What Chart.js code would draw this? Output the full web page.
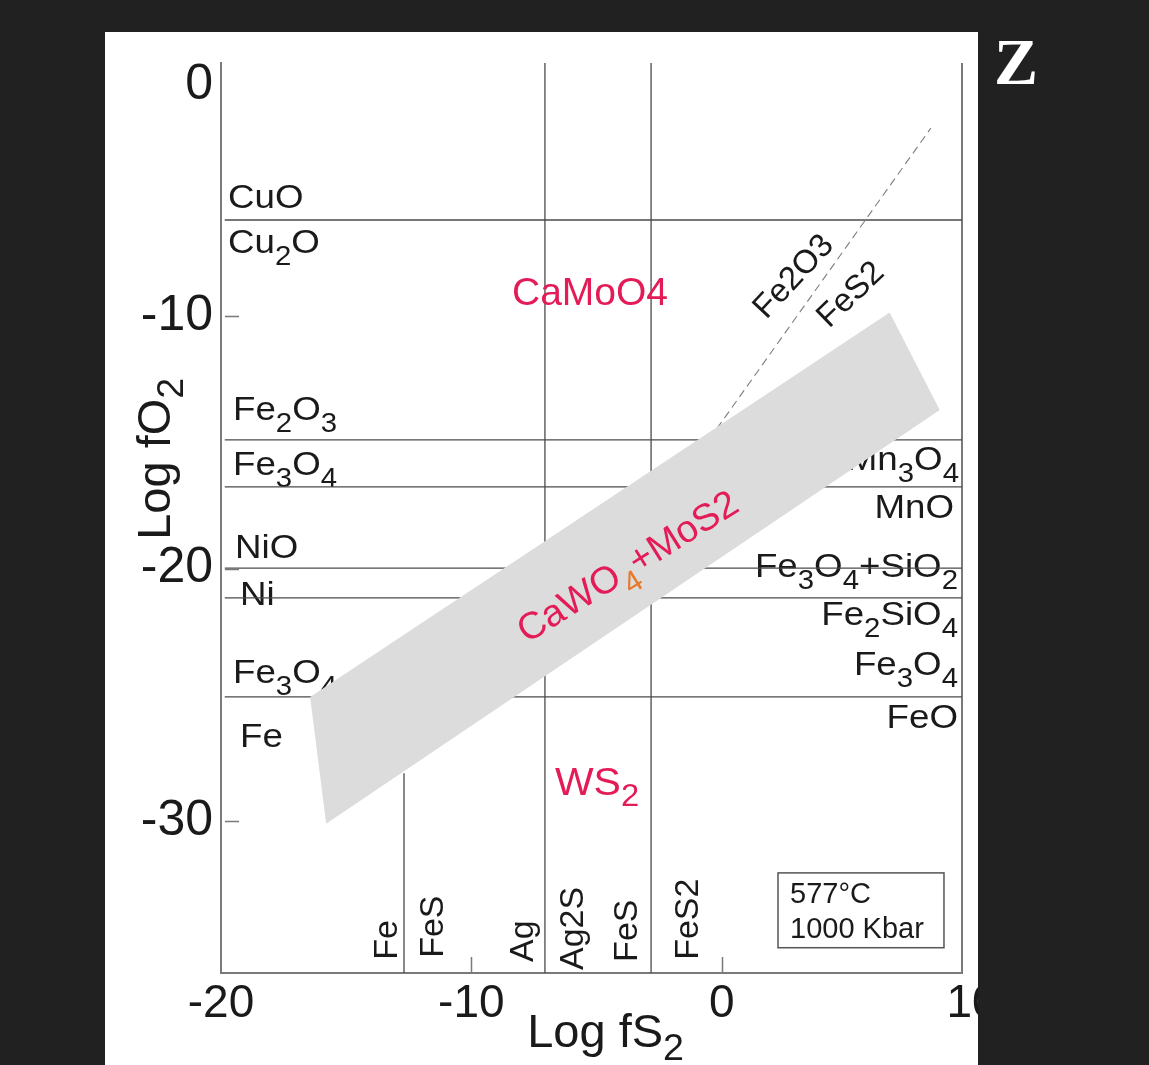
<!DOCTYPE html>
<html>
<head>
<meta charset="utf-8">
<title>Log fO2 - Log fS2 diagram, 577 °C</title>
<script src="https://cdn.jsdelivr.net/npm/chart.js@4.4.1/dist/chart.umd.min.js"></script>
<style>
  html, body { margin: 0; padding: 0; background: #212121; width: 1149px; height: 1065px; overflow: hidden; }
  #panel { position: absolute; left: 105px; top: 32px; width: 873px; height: 1033px; background: #fff; }
  #wrap { position: absolute; left: 0; top: 0; width: 978px; height: 1065px; overflow: hidden; }
  #mark { position: absolute; left: 994px; top: 24px; color: #fff; font: bold 66px 'Liberation Serif', 'DejaVu Serif', serif; }
</style>
</head>
<body>
<div id="panel"></div>
<div id="wrap"><canvas id="diagram" width="978" height="1065"></canvas></div>
<div id="mark">Z</div>
<script>
// ---- axis ranges and ticks ----
var X_MIN = -20, X_MAX = 9.6;
var Y_MIN = -36, Y_MAX = 0;
var xTicks = [-20, -10, 0, 10];
var yTicks = [0, -10, -20, -30];

// ---- buffer lines (log units) ----
var oxideBuffers = [-6.21, -14.91, -16.77, -19.98, -21.16, -25.08];  // horizontal, log fO2
var sulfideBuffers = [-7.06, -2.82];                                // vertical, log fS2 (full height)
var feFesX = -12.69, feFesTop = -28.1;                              // Fe / FeS, lower part only
var hematitePyriteX = [-2.0, 8.36];                                 // dashed Fe2O3 / FeS2 boundary
var hematitePyriteY = [-16.98, -2.57];

// ---- CaWO4 + MoS2 field (grey band) ----
var bandX = [-16.44, 6.71, 8.71, -15.80, -16.44];
var bandY = [-25.08, -9.87, -13.73, -30.10, -25.08];

// ---- phase labels ("_" marks a subscript) ----
var leftLabels = ['CuO', 'Cu_2O', 'Fe_2O_3', 'Fe_3O_4', 'NiO', 'Ni', 'Fe_3O_4', 'Fe'];
var leftLabelX = [-19.72, -19.72, -19.52, -19.52, -19.44, -19.24, -19.52, -19.24];
var leftLabelY = [-5.74, -7.52, -14.12, -16.30, -19.58, -21.44, -24.53, -27.06];

var rightLabels = ['Mn_3O_4', 'MnO', 'Fe_3O_4+SiO_2', 'Fe_2SiO_4', 'Fe_3O_4', 'FeO'];
var rightLabelX = [9.48, 9.28, 9.44, 9.44, 9.44, 9.44];
var rightLabelY = [-16.10, -18.0, -20.33, -22.23, -24.21, -26.31];

var bottomLabels = ['Fe', 'FeS', 'Ag', 'Ag2S', 'FeS', 'FeS2'];
var bottomLabelX = [-12.97, -11.13, -7.54, -5.54, -3.38, -0.94];
var bottomLabelY = [-35.48, -35.40, -35.56, -35.88, -35.56, -35.48];

var conditions = ['577°C', '1000 Kbar'];
var X_TITLE = 'Log fS_2';
var Y_TITLE = 'Log fO_2';

var INK = '#1a1a1a';
var LINE = '#4a4a4a';
var AXIS = '#7a7a7a';
var RED = '#e31b57';
var ORANGE = '#e8782a';
var BAND = '#dcdcdc';
var FONT = "'Liberation Sans', Arial, Helvetica, sans-serif";

Chart.defaults.font.family = FONT;
Chart.defaults.color = INK;

function parseRich(s) {
  var segs = [];
  for (var i = 0; i < s.length; i++) {
    if (s[i] === '_' && i + 1 < s.length) { segs.push({ t: s[i + 1], sub: true }); i++; }
    else if (segs.length && !segs[segs.length - 1].sub) segs[segs.length - 1].t += s[i];
    else segs.push({ t: s[i], sub: false });
  }
  return segs;
}

// draws text with lowered, smaller subscripts; optional rotation and horizontal stretch
function drawRich(ctx, text, px, py, o) {
  var size = o.size, subScale = o.subScale || 0.8, subShift = o.subShift == null ? 0.36 : o.subShift;
  var segs = parseRich(text);
  ctx.save();
  ctx.translate(px, py);
  ctx.rotate((o.rot || 0) * Math.PI / 180);
  if (o.hScale) ctx.scale(o.hScale, 1);
  ctx.textBaseline = 'alphabetic';
  ctx.textAlign = 'left';
  var total = 0;
  segs.forEach(function (s) {
    ctx.font = (s.sub ? size * subScale : size) + 'px ' + FONT;
    s.w = ctx.measureText(s.t).width;
    total += s.w;
  });
  var x = o.align === 'right' ? -total : o.align === 'center' ? -total / 2 : 0;
  var dy = o.middle ? size * 0.36 : 0;
  segs.forEach(function (s) {
    ctx.font = (s.sub ? size * subScale : size) + 'px ' + FONT;
    ctx.fillStyle = s.sub && o.subColor ? o.subColor : o.color;
    ctx.fillText(s.t, x, dy + (s.sub ? size * subShift : 0));
    x += s.w;
  });
  ctx.restore();
}

var phasePlugin = {
  id: 'phases',
  beforeDatasetsDraw: function (chart) {
    var ctx = chart.ctx, xs = chart.scales.x, ys = chart.scales.y;
    leftLabels.forEach(function (t, i) {
      drawRich(ctx, t, xs.getPixelForValue(leftLabelX[i]), ys.getPixelForValue(leftLabelY[i]),
        { size: 34, align: 'left', color: INK, hScale: 1.08 });
    });
    rightLabels.forEach(function (t, i) {
      drawRich(ctx, t, xs.getPixelForValue(rightLabelX[i]), ys.getPixelForValue(rightLabelY[i]),
        { size: 34, align: 'right', color: INK, hScale: 1.08 });
    });
    bottomLabels.forEach(function (t, i) {
      drawRich(ctx, t, xs.getPixelForValue(bottomLabelX[i]), ys.getPixelForValue(bottomLabelY[i]),
        { size: 34, align: 'left', color: INK, rot: -90 });
    });
  },
  afterDatasetsDraw: function (chart) {
    var ctx = chart.ctx, xs = chart.scales.x, ys = chart.scales.y, a = chart.chartArea;
    // field names
    drawRich(ctx, 'CaMoO4', xs.getPixelForValue(-5.26), ys.getPixelForValue(-9.57), { size: 39, align: 'center', color: RED });
    drawRich(ctx, 'WS_2', xs.getPixelForValue(-6.66), ys.getPixelForValue(-28.96), { size: 39, align: 'left', color: RED, subShift: 0.28, hScale: 1.05 });
    drawRich(ctx, 'CaWO_4+MoS2', xs.getPixelForValue(-3.50), ys.getPixelForValue(-20.33),
      { size: 38, align: 'center', color: RED, subColor: ORANGE, rot: -32 });
    drawRich(ctx, 'Fe2O3', xs.getPixelForValue(2.81), ys.getPixelForValue(-8.39), { size: 33, align: 'center', color: INK, rot: -47, middle: true });
    drawRich(ctx, 'FeS2', xs.getPixelForValue(5.09), ys.getPixelForValue(-9.10), { size: 33, align: 'center', color: INK, rot: -44, middle: true });

    // conditions box
    var bx0 = xs.getPixelForValue(2.25), bx1 = xs.getPixelForValue(8.88);
    var by0 = ys.getPixelForValue(-32.04), by1 = ys.getPixelForValue(-35.0);
    ctx.save();
    ctx.strokeStyle = '#555';
    ctx.lineWidth = 1.5;
    ctx.strokeRect(bx0, by0, bx1 - bx0, by1 - by0);
    ctx.restore();
    drawRich(ctx, conditions[0], xs.getPixelForValue(2.73), ys.getPixelForValue(-33.23), { size: 29, align: 'left', color: INK });
    drawRich(ctx, conditions[1], xs.getPixelForValue(2.73), ys.getPixelForValue(-34.61), { size: 29, align: 'left', color: INK });

    // inward tick marks
    ctx.save();
    ctx.strokeStyle = AXIS;
    ctx.lineWidth = 1.5;
    ctx.beginPath();
    yTicks.forEach(function (v) {
      if (v === Y_MAX) return;
      var py = Math.round(ys.getPixelForValue(v)) + 0.5;
      ctx.moveTo(a.left + 4, py); ctx.lineTo(a.left + 18, py);
    });
    xTicks.forEach(function (v) {
      if (v <= X_MIN || v >= X_MAX) return;
      var px = Math.round(xs.getPixelForValue(v)) + 0.5;
      ctx.moveTo(px, a.bottom); ctx.lineTo(px, a.bottom - 16);
    });
    ctx.stroke();
    ctx.restore();

    // axis titles
    drawRich(ctx, X_TITLE, xs.getPixelForValue(-7.77), a.bottom + 74, { size: 47, align: 'left', color: INK, subShift: 0.28 });
    drawRich(ctx, Y_TITLE, a.left - 51, ys.getPixelForValue(-15.66), { size: 47, align: 'center', color: INK, rot: -90, subShift: 0.28 });
  }
};

function seg(x0, y0, x1, y1, extra) {
  var d = { data: [{ x: x0, y: y0 }, { x: x1, y: y1 }], borderColor: LINE, borderWidth: 1.3,
            pointRadius: 0, fill: false, clip: false, order: 2 };
  for (var k in extra) d[k] = extra[k];
  return d;
}

var datasets = [];
datasets.push({
  data: bandX.map(function (v, i) { return { x: v, y: bandY[i] }; }),
  borderWidth: 0, borderColor: BAND, backgroundColor: BAND, pointRadius: 0,
  fill: 'shape', tension: 0, order: 0
});
datasets.push(seg(hematitePyriteX[0], hematitePyriteY[0], hematitePyriteX[1], hematitePyriteY[1],
  { borderColor: '#7d7d7d', borderWidth: 1.1, borderDash: [8, 5], order: 1 }));
oxideBuffers.forEach(function (v) { datasets.push(seg(-19.85, v, X_MAX, v)); });
sulfideBuffers.forEach(function (v) { datasets.push(seg(v, Y_MIN, v, Y_MAX)); });
datasets.push(seg(feFesX, Y_MIN, feFesX, feFesTop));
datasets.push(seg(X_MAX, Y_MIN, X_MAX, Y_MAX, { borderColor: AXIS, borderWidth: 2 }));

new Chart(document.getElementById('diagram'), {
  type: 'line',
  data: { datasets: datasets },
  options: {
    responsive: false,
    animation: false,
    events: [],
    layout: { padding: { top: 63, right: 16, left: 0, bottom: 0 } },
    plugins: { legend: { display: false }, tooltip: { enabled: false } },
    scales: {
      x: {
        type: 'linear', min: X_MIN, max: X_MAX,
        grid: { display: false, drawTicks: false },
        border: { display: true, color: AXIS, width: 2 },
        afterBuildTicks: function (s) { s.ticks = xTicks.map(function (v) { return { value: v }; }); },
        afterFit: function (s) { s.height = 92; s.paddingLeft = 0; s.paddingRight = 0; },
        ticks: { autoSkip: false, maxRotation: 0, padding: 4, color: INK, font: { size: 46 },
                 callback: function (v) { return String(v); } }
      },
      y: {
        type: 'linear', min: Y_MIN, max: Y_MAX,
        grid: { display: false, drawTicks: false },
        border: { display: true, color: AXIS, width: 2 },
        afterBuildTicks: function (s) { s.ticks = yTicks.map(function (v) { return { value: v }; }); },
        afterFit: function (s) { s.width = 221; s.paddingTop = 0; s.paddingBottom = 0; },
        ticks: { autoSkip: false, padding: 8, color: INK, font: { size: 50, lineHeight: 0.9 },
                 callback: function (v) { return v === 0 ? ['', '0'] : String(v); } }
      }
    }
  },
  plugins: [phasePlugin]
});
</script>
</body>
</html>
